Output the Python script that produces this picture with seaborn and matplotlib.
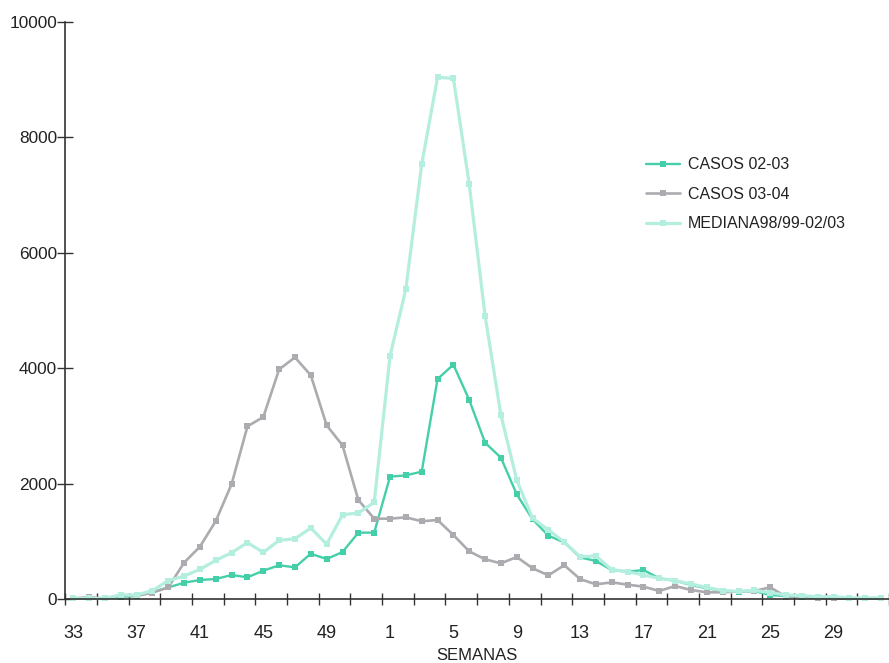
import matplotlib
matplotlib.use("Agg")
import matplotlib.pyplot as plt
import seaborn as sns
import pandas as pd
import numpy as np

sns.set_theme(style="white")
plt.rcParams['font.family'] = ['Liberation Sans', 'DejaVu Sans']

weeks = list(range(33, 53)) + list(range(1, 33))

casos_0203 = [10, 10, 10, 40, 50, 120, 200, 283, 329, 347, 416, 376, 491, 584, 549, 785, 693, 814,
              1150, 1150, 2120, 2143, 2207, 3813, 4061, 3450, 2709, 2449, 1814, 1381, 1097, 980,
              722, 658, 502, 474, 502, 358, 318, 243, 185, 145, 127, 139, 69, 52, 40, 20, 15, 10, 10, 10]
casos_0304 = [10, 30, 10, 64, 55, 110, 200, 630, 907, 1352, 1993, 2993, 3154, 3980, 4188, 3876, 3010, 2663,
              1716, 1392, 1392, 1416, 1347, 1369, 1109, 826, 688, 618, 728, 532, 410, 586,
              345, 254, 289, 248, 214, 139, 225, 156, 116, 116, 133, 139, 202, 40, 50, 25, 10, 10, 10, 10]
mediana = [10, 10, 10, 70, 70, 145, 318, 398, 514, 670, 803, 977, 808, 1017, 1045, 1230, 948, 1461,
           1490, 1675, 4210, 5373, 7534, 9041, 9024, 7192, 4910, 3189, 2062, 1398, 1196, 988,
           734, 745, 508, 474, 416, 358, 318, 260, 202, 145, 133, 150, 110, 69, 58, 40, 40, 20, 20, 20]

series_names = ["CASOS 02-03", "CASOS 03-04", "MEDIANA98/99-02/03"]
series_vals = [casos_0203, casos_0304, mediana]
colors = ["#45CFA8", "#ABABB0", "#B4EEDF"]
lws = [1.7, 1.9, 2.3]
msz = [3.8, 5.0, 4.6]

idx = np.arange(len(weeks))
fig = plt.figure(figsize=(8.89, 6.63), dpi=100)
ax = fig.add_axes([65.3 / 889, 64 / 663, (889 - 65.3) / 889, 577 / 663])

for name, vals, c, lw, ms in zip(series_names, series_vals, colors, lws, msz):
    df = pd.DataFrame({"i": idx, "v": vals})
    sns.lineplot(data=df, x="i", y="v", ax=ax, color=c, linewidth=lw, marker="s",
                 markersize=ms, markeredgewidth=0, label=name, clip_on=False)

ax.set_xlim(-0.5, (889 - 73.3) / 15.93)
ax.set_ylim(0, 10000)

ax.set_xticks(idx[::4])
ax.set_xticklabels([str(w) for w in weeks[::4]], fontsize=13, color="#222222")
ax.set_xticks(np.arange(-0.5, 52, 2), minor=True)
ax.tick_params(axis="x", which="major", length=0, pad=19)
ax.tick_params(axis="x", which="minor", direction="inout", length=8, width=1, color="#333333", bottom=True)

ax.set_yticks(np.arange(0, 10001, 2000))
ax.set_yticklabels([str(v) for v in range(0, 10001, 2000)], fontsize=12.4, color="#222222")
ax.tick_params(axis="y", direction="inout", length=11, width=1, color="#333333", pad=0.5, left=True)

for s in ["top", "right"]:
    ax.spines[s].set_visible(False)
for s in ["left", "bottom"]:
    ax.spines[s].set_color("#333333")
    ax.spines[s].set_linewidth(1.2)

ax.set_xlabel("SEMANAS", fontsize=12, color="#222222", labelpad=4)
ax.set_ylabel("")
ax.grid(False)

leg = ax.legend(loc="upper left", bbox_to_anchor=(640 / 889, 1 - 151 / 663), bbox_transform=fig.transFigure,
                frameon=False, fontsize=11.5, handlelength=2.1, handletextpad=0.5, labelspacing=0.9,
                borderaxespad=0)
for t in leg.get_texts():
    t.set_color("#222222")

fig.savefig("out.png", dpi=100)
